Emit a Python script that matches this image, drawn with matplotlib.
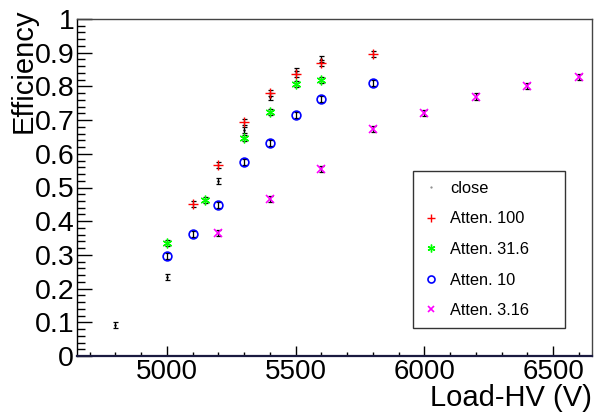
import matplotlib
matplotlib.use('Agg')
import matplotlib.pyplot as plt
from matplotlib.ticker import MultipleLocator
from matplotlib.lines import Line2D

plt.rcParams['font.family'] = ['Liberation Sans', 'DejaVu Sans']

# data
close_hv = [4800, 5000, 5200, 5300, 5400, 5500, 5600]
close_eff = [0.092, 0.234, 0.520, 0.671, 0.770, 0.845, 0.880]
a100_hv = [5100, 5200, 5300, 5400, 5500, 5600, 5800]
a100_eff = [0.452, 0.567, 0.695, 0.780, 0.837, 0.870, 0.895]
a31_hv = [5000, 5150, 5300, 5400, 5500, 5600]
a31_eff = [0.334, 0.463, 0.648, 0.725, 0.808, 0.819]
a10_hv = [5000, 5100, 5200, 5300, 5400, 5500, 5600, 5800]
a10_eff = [0.296, 0.363, 0.448, 0.575, 0.631, 0.715, 0.763, 0.809]
a3_hv = [5200, 5400, 5600, 5800, 6000, 6200, 6400, 6600]
a3_eff = [0.364, 0.465, 0.555, 0.674, 0.722, 0.770, 0.802, 0.829]
err = 0.009

labels = ['close', 'Atten. 100', 'Atten. 31.6', 'Atten. 10', 'Atten. 3.16']
ytick_vals = [0, 0.1, 0.2, 0.3, 0.4, 0.5, 0.6, 0.7, 0.8, 0.9, 1.0]
ytick_labels = ['0', '0.1', '0.2', '0.3', '0.4', '0.5', '0.6', '0.7', '0.8', '0.9', '1']

fig = plt.figure(figsize=(5.96, 4.12), dpi=100)
ax = fig.add_axes([77/596, 1-356/412, (592-77)/596, (356-19)/412])

star = (6, 2, 0)
series = [
    (close_hv, close_eff, dict(marker='.', ms=1.5, color='black', mfc='black', mec='black')),
    (a100_hv, a100_eff, dict(marker='+', ms=7, color='red', mew=1.0)),
    (a31_hv, a31_eff, dict(marker=star, ms=7, color='#00ff00', mew=1.0)),
    (a10_hv, a10_eff, dict(marker='o', ms=6.3, mfc='none', mec='blue', mew=1.2, color='blue')),
    (a3_hv, a3_eff, dict(marker='x', ms=5.5, color='magenta', mew=1.2)),
]
for hv, eff, st in series:
    ax.errorbar(hv, eff, yerr=[err]*len(hv), fmt='none', ecolor='black', elinewidth=0.9,
                capsize=1.8, capthick=0.9, zorder=3)
    ax.plot(hv, eff, linestyle='none', zorder=4, **st)

ax.set_xlim(4651, 6651)
ax.set_ylim(0, 1)
ax.xaxis.set_major_locator(MultipleLocator(500))
ax.xaxis.set_minor_locator(MultipleLocator(100))
ax.yaxis.set_minor_locator(MultipleLocator(0.02))
ax.set_yticks(ytick_vals)
ax.set_yticklabels(ytick_labels)

ax.tick_params(axis='y', which='major', direction='in', length=10.8, width=1.0, labelsize=20.5, pad=2)
ax.tick_params(axis='y', which='minor', direction='in', length=6, width=1.0)
ax.tick_params(axis='x', which='major', direction='in', length=7.2, width=1.0, labelsize=20, pad=2)
ax.tick_params(axis='x', which='minor', direction='in', length=3.2, width=1.0)

for s in ['top', 'right']:
    ax.spines[s].set_color('#444444')
    ax.spines[s].set_linewidth(1.0)
ax.spines['bottom'].set_color('#1a1a40')
ax.spines['bottom'].set_linewidth(1.6)
ax.spines['left'].set_linewidth(1.0)

ax.set_xlabel('Load-HV (V)', fontsize=21)
ax.xaxis.set_label_coords(1.0, (356 - 412) / 337)
ax.xaxis.label.set_ha('right')
ax.xaxis.label.set_va('bottom')

ax.set_ylabel('Efficiency', fontsize=21)
ax.yaxis.label.set_rotation_mode('anchor')
ax.yaxis.set_label_coords((38 - 77) / 515, (356 - 8) / 337)
ax.yaxis.label.set_ha('right')
ax.yaxis.label.set_va('bottom')

handles = [Line2D([], [], linestyle='none', **st) for _, _, st in series]
handles[0] = Line2D([], [], linestyle='none', marker='.', ms=1.5, color='#888888')
leg = ax.legend(handles, labels, loc='lower left', bbox_to_anchor=(0.652, 0.083, 0.296, 0.427),
                mode='expand', fontsize=11.8, frameon=True, fancybox=False, edgecolor='black',
                labelspacing=0.95, borderpad=0.6, handlelength=1.0, handletextpad=0.7,
                borderaxespad=0, markerscale=0.8)
leg.get_frame().set_linewidth(1.0)

fig.savefig('out.png', dpi=100)
